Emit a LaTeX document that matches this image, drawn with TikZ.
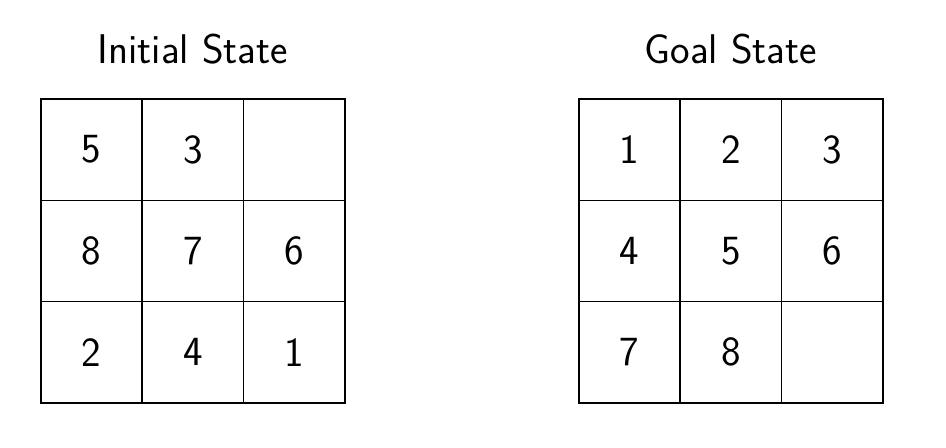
\documentclass[tikz,border=0pt]{standalone}
\usepackage{tikz}
\usetikzlibrary{positioning}

\begin{document}
\begin{tikzpicture}[
    tile/.style={draw,rectangle,line width=0.8pt,minimum size=1.78cm,inner sep=0pt,font=\sffamily\fontsize{20.74}{25}\selectfont},
    heading/.style={anchor=base,font=\sffamily\fontsize{20.74}{25}\selectfont}
  ]
    \useasboundingbox (0,0) rectangle (16.62,7.87);

    % Titles
    \node[heading] (initTitle) at (3.39,6.76) {Initial State};
    \node[heading] (goalTitle) at (12.84,6.76) {Goal State};

    % Initial state
    \node[tile] (i11) at (1.61,5.24) {5};
    \node[tile] (i12) at (3.39,5.24) {3};
    \node[tile] (i13) at (5.17,5.24) {};
    \node[tile] (i21) at (1.61,3.46) {8};
    \node[tile] (i22) at (3.39,3.46) {7};
    \node[tile] (i23) at (5.17,3.46) {6};
    \node[tile] (i31) at (1.61,1.68) {2};
    \node[tile] (i32) at (3.39,1.68) {4};
    \node[tile] (i33) at (5.17,1.68) {1};

    % Goal state
    \node[tile] (g11) at (11.06,5.24) {1};
    \node[tile] (g12) at (12.84,5.24) {2};
    \node[tile] (g13) at (14.62,5.24) {3};
    \node[tile] (g21) at (11.06,3.46) {4};
    \node[tile] (g22) at (12.84,3.46) {5};
    \node[tile] (g23) at (14.62,3.46) {6};
    \node[tile] (g31) at (11.06,1.68) {7};
    \node[tile] (g32) at (12.84,1.68) {8};
    \node[tile] (g33) at (14.62,1.68) {};
\end{tikzpicture}
\end{document}
